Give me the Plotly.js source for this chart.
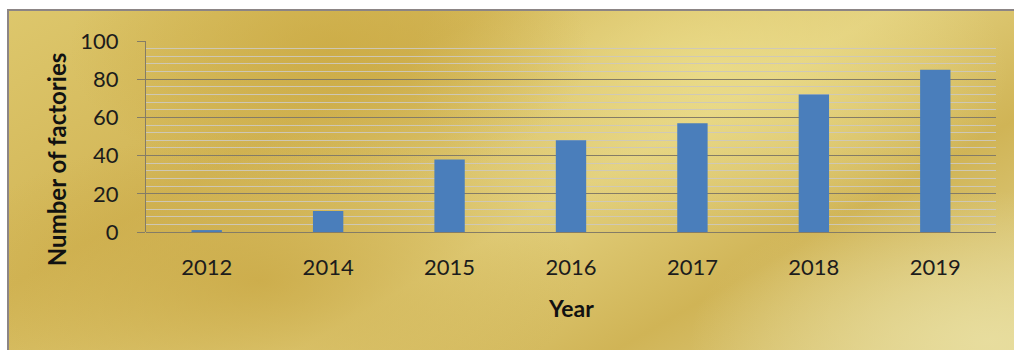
<!DOCTYPE html>
<html>
<head>
<meta charset="utf-8">
<script src="https://cdn.plot.ly/plotly-3.0.1.min.js"></script>
<style>
  html, body { margin:0; padding:0; background:#ffffff; width:1014px; height:350px; overflow:hidden; }
  #bg {
    position:absolute; left:7px; top:9px; width:1007px; height:341px;
    border-left:2px solid #8c8585; border-top:2px solid #8c8585; box-sizing:border-box;
    background:
      radial-gradient(ellipse 260px 140px at 320px 40px, rgba(202,168,64,0.7), rgba(202,168,64,0) 100%),
      radial-gradient(ellipse 300px 160px at 700px 60px, rgba(236,222,140,0.8), rgba(236,222,140,0) 100%),
      radial-gradient(ellipse 320px 150px at 250px 270px, rgba(200,166,66,0.75), rgba(200,166,66,0) 100%),
      radial-gradient(ellipse 300px 150px at 980px 330px, rgba(232,222,160,0.9), rgba(232,222,160,0) 100%),
      linear-gradient(150deg, #ddc76c 0%, #d2b556 30%, #e2cf7c 55%, #d0b456 75%, #e2d48e 100%);
  }
  #chart { position:absolute; left:0; top:0; width:1014px; height:350px; }
</style>
</head>
<body>
<div id="bg"></div>
<div id="chart"></div>
<script>
const years = ["2012", "2014", "2015", "2016", "2017", "2018", "2019"];
const factories = [1, 11, 38, 48, 57, 72, 85];
const yTicks = [0, 20, 40, 60, 80, 100];
const xTitle = "Year";
const yTitle = "Number of factories";

const trace = {
  type: "bar",
  x: years,
  y: factories,
  width: 0.25,
  marker: { color: "#4a7ebb" },
  hoverinfo: "x+y"
};

const layout = {
  width: 1014,
  height: 350,
  margin: { l: 146, r: 18, t: 41, b: 118 },
  paper_bgcolor: "rgba(0,0,0,0)",
  plot_bgcolor: "rgba(0,0,0,0)",
  showlegend: false,
  font: { family: "Lato, 'Open Sans', sans-serif", color: "#1a1a1a" },
  xaxis: {
    type: "category",
    showgrid: false,
    showline: false,
    zeroline: false,
    ticks: "",
    tickfont: { size: 22, color: "#1c1c1c" },
    ticklabelstandoff: 20
  },
  yaxis: {
    range: [0, 100],
    tickvals: yTicks,
    ticktext: yTicks.map(String),
    showgrid: true,
    gridcolor: "#847c66",
    gridwidth: 1,
    zeroline: true,
    zerolinecolor: "#847c66",
    zerolinewidth: 1,
    showline: true,
    linecolor: "#847c66",
    linewidth: 1,
    ticks: "outside",
    ticklen: 8,
    tickcolor: "#847c66",
    tickfont: { size: 22, color: "#1c1c1c" },
    ticklabelstandoff: 14,
    minor: { dtick: 4, tick0: 0, showgrid: true, gridcolor: "rgba(205,200,185,0.95)", gridwidth: 1, ticks: "" },
    automargin: false
  },
  annotations: [
    { text: "<b>" + yTitle + "</b>", xref: "paper", yref: "paper", x: -0.105, y: 0.38, xanchor: "center", yanchor: "middle",
      textangle: -90, showarrow: false, font: { size: 24, color: "#111" } },
    { text: "<b>" + xTitle + "</b>", xref: "paper", yref: "paper", x: 0.5, y: -0.4, xanchor: "center", yanchor: "middle",
      showarrow: false, font: { size: 23, color: "#111" } }
  ]
};

Plotly.newPlot("chart", [trace], layout, { displayModeBar: false, staticPlot: true });
</script>
</body>
</html>
